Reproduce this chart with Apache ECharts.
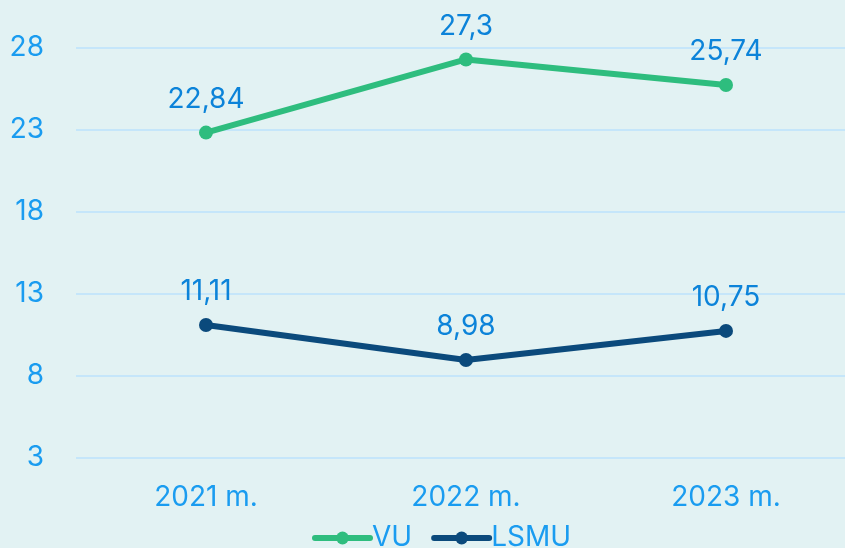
<!DOCTYPE html>
<html>
<head>
<meta charset="utf-8">
<style>
  html, body { margin: 0; padding: 0; background: #e2f2f3; }
  #chart { width: 845px; height: 548px; }
</style>
<script src="https://cdn.jsdelivr.net/npm/echarts@6/dist/echarts.min.js"></script>
</head>
<body>
<div id="chart"></div>
<script>
var years = ["2021 m.", "2022 m.", "2023 m."];
var vu = [22.84, 27.3, 25.74];
var lsmu = [11.11, 8.98, 10.75];

var labelBlue = "#1a9cf0";
var dataLabelBlue = "#0c83d9";
var font = "Inter";

function commaLabel(p) {
  return String(p.value).replace(".", ",");
}

var chart = echarts.init(document.getElementById("chart"));

var option = {
  backgroundColor: "#e2f2f3",
  textStyle: { fontFamily: font },
  grid: {
    left: 76,
    width: 780,
    top: 48,
    bottom: 90,
    outerBoundsMode: "none",
  },
  legend: {
    bottom: -9,
    left: 307,
    itemWidth: 55,
    itemHeight: 16,
    itemGap: 19,
    lineStyle: { width: 6, cap: "round" },
    textStyle: { color: labelBlue, fontSize: 28, fontFamily: font, padding: [0, 0, 0, -3] },
    data: ["VU", "LSMU"],
  },
  xAxis: {
    type: "category",
    data: years,
    axisLine: { show: false },
    axisTick: { show: false },
    axisLabel: { color: labelBlue, fontSize: 28, margin: 26 },
  },
  yAxis: {
    type: "value",
    min: 3,
    max: 28,
    interval: 5,
    axisLine: { show: false },
    axisTick: { show: false },
    axisLabel: { color: labelBlue, fontSize: 28, margin: 32 },
    splitLine: { lineStyle: { color: "#c5e6fa", width: 2 } },
  },
  series: [
    {
      name: "VU",
      type: "line",
      data: vu,
      symbol: "circle",
      symbolSize: 14,
      lineStyle: { width: 6, color: "#2ebd7e" },
      itemStyle: { color: "#2ebd7e" },
      label: {
        show: true,
        position: "top",
        distance: 12,
        color: dataLabelBlue,
        fontSize: 28,
        formatter: commaLabel,
      },
    },
    {
      name: "LSMU",
      type: "line",
      data: lsmu,
      symbol: "circle",
      symbolSize: 14,
      lineStyle: { width: 6, color: "#0b4a7c" },
      itemStyle: { color: "#0b4a7c" },
      label: {
        show: true,
        position: "top",
        distance: 12,
        color: dataLabelBlue,
        fontSize: 28,
        formatter: commaLabel,
      },
    },
  ],
};

chart.setOption(option);
</script>
</body>
</html>
